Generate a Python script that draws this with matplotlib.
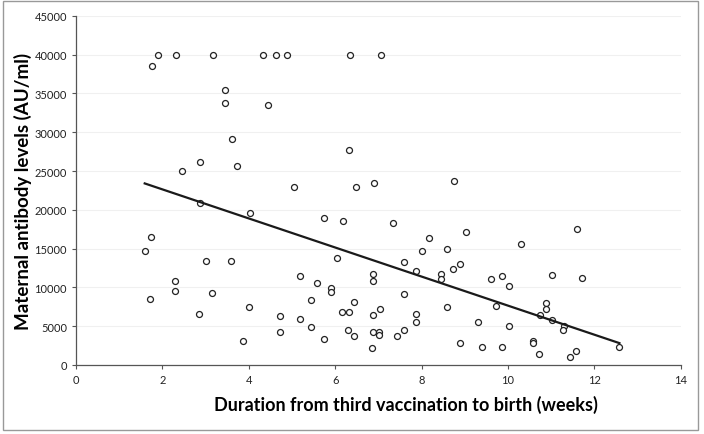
import numpy as np
import matplotlib
matplotlib.use("Agg")
import matplotlib.pyplot as plt
from matplotlib.patches import Rectangle

# weeks from third vaccination to birth
weeks = [1.89, 1.75, 2.31, 3.18, 4.32, 4.62, 3.46, 3.46, 4.45, 3.60, 2.45, 2.88, 3.73,
         4.89, 6.34, 7.05, 6.33, 5.04, 6.48, 6.89, 8.74,
         2.88, 4.02, 1.73, 1.59, 3.00, 3.58, 2.30, 2.30, 1.72, 3.15, 2.85, 4.00, 3.86, 4.72, 4.73,
         5.75, 6.17, 7.33, 9.03, 8.18, 8.59, 8.02, 6.04, 7.60, 8.89, 8.73, 7.88, 8.46, 8.46,
         5.19, 6.88, 6.88, 5.59, 5.90, 5.90, 7.60, 5.45, 6.44, 8.59, 7.03, 6.16, 6.31, 6.87,
         7.86, 5.18, 7.86, 9.30, 5.44, 6.30, 6.43, 5.73, 6.87, 7.02, 7.02, 7.43, 7.60, 8.89,
         9.40, 6.85,
         11.60, 10.31, 9.60, 9.87, 10.02, 11.02, 11.72, 9.72, 10.87, 10.87, 10.74, 11.01,
         10.02, 11.29, 11.28, 9.87, 10.57, 10.58, 10.72, 11.43, 11.57, 12.58]

# maternal antibody level (AU/ml)
antibody = [40000, 38580, 40000, 40000, 40000, 40000, 35420, 33720, 33550, 29130, 25000, 26210, 25690,
            40000, 40000, 40000, 27700, 22920, 22920, 23480, 23740,
            20890, 19550, 16450, 14640, 13400, 13400, 10850, 9560, 8530, 9210, 6590, 7400, 3060, 6240, 4240,
            18950, 18570, 18260, 17090, 16320, 14990, 14690, 13780, 13310, 13050, 12400, 12140, 11670, 11070,
            11500, 11760, 10810, 10550, 9910, 9390, 9170, 8400, 8140, 7450, 7240, 6760, 6760, 6460,
            6590, 5860, 5470, 5470, 4820, 4480, 3750, 3360, 4180, 4180, 3880, 3710, 4520, 2800,
            2330, 2200,
            17570, 15630, 11070, 11500, 10170, 11630, 11150, 7530, 7970, 7200, 6460, 5770,
            4950, 4950, 4430, 2330, 3060, 2800, 1420, 990, 1770, 2360]

# linear trend line end points
trend_x = [1.59, 12.58]
trend_y = [23400, 2800]

fig = plt.figure(figsize=(7.04, 4.35), dpi=100)
ax = fig.add_axes([0.108, 0.159, 0.859, 0.802])

ax.set_xlim(0, 14)
ax.set_ylim(0, 45000)
ax.set_xticks(range(0, 15, 2))
ax.set_yticks(range(0, 45001, 5000))
ax.grid(axis='y', color='#f0f0f0', linewidth=0.8)
ax.set_axisbelow(True)

ax.plot(weeks, antibody, 'o', markerfacecolor='white', markeredgecolor='#222222',
        markersize=4.3, markeredgewidth=0.9, linestyle='none')
ax.plot(trend_x, trend_y, color='#1a1a1a', linewidth=1.6)

for s in ['top', 'right']:
    ax.spines[s].set_visible(False)
for s in ['left', 'bottom']:
    ax.spines[s].set_color('#555555')
    ax.spines[s].set_linewidth(0.9)
ax.tick_params(axis='both', direction='out', length=3, color='#555555',
               labelsize=8, labelcolor='#222222')

ax.set_xlabel('Duration from third vaccination to birth (weeks)', fontsize=13,
              fontweight='bold', family='Lato')
ax.xaxis.set_label_coords(0.545, -0.085)
ax.set_ylabel('Maternal antibody levels (AU/ml)', fontsize=13.5,
              fontweight='bold', family='Lato', labelpad=2)
for lbl in ax.get_xticklabels() + ax.get_yticklabels():
    lbl.set_family('Lato')

fig.patches.append(Rectangle((0.004, 0.01), 0.988, 0.985, transform=fig.transFigure,
                             fill=False, edgecolor='#999999', linewidth=1.0))

fig.savefig('out.png', dpi=100)
